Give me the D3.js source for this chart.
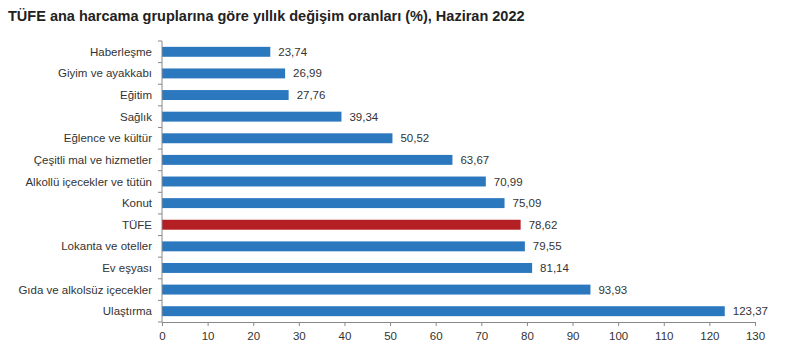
<!DOCTYPE html>
<html>
<head>
<meta charset="utf-8">
<script src="https://cdn.jsdelivr.net/npm/d3@7.9.0/dist/d3.min.js"></script>
<style>
  body { margin: 0; background: #fff; }
  svg { display: block; font-family: "Liberation Sans", Arial, sans-serif; }
</style>
</head>
<body>
<div id="chart"></div>
<script>
const categories = [
  'Haberleşme', 'Giyim ve ayakkabı', 'Eğitim', 'Sağlık', 'Eğlence ve kültür',
  'Çeşitli mal ve hizmetler', 'Alkollü içecekler ve tütün', 'Konut', 'TÜFE',
  'Lokanta ve oteller', 'Ev eşyası', 'Gıda ve alkolsüz içecekler', 'Ulaştırma'
];
const values = [23.74, 26.99, 27.76, 39.34, 50.52, 63.67, 70.99, 75.09, 78.62, 79.55, 81.14, 93.93, 123.37];
const xTicks = [0, 10, 20, 30, 40, 50, 60, 70, 80, 90, 100, 110, 120, 130];
const highlight = 'TÜFE';

const data = categories.map((c, i) => ({ name: c, value: values[i] }));

const width = 792;
const height = 352;
const margin = { top: 41, right: 37, bottom: 30, left: 162 };

const svg = d3.select('#chart')
  .append('svg')
  .attr('width', width)
  .attr('height', height);

// Title
svg.append('text')
  .attr('x', 8)
  .attr('y', 21)
  .attr('font-size', 14.5)
  .attr('font-weight', 'bold')
  .attr('fill', '#222')
  .text('TÜFE ana harcama gruplarına göre yıllık değişim oranları (%), Haziran 2022');

const xScale = d3.scaleLinear()
  .domain([0, 130])
  .range([margin.left, width - margin.right]);

const yScale = d3.scaleBand()
  .domain(categories)
  .range([margin.top, height - margin.bottom])
  .paddingInner(0.54)
  .paddingOuter(0.27);

// Bars
svg.append('g')
  .selectAll('rect')
  .data(data)
  .join('rect')
  .attr('x', xScale(0))
  .attr('y', d => yScale(d.name))
  .attr('width', d => xScale(d.value) - xScale(0))
  .attr('height', yScale.bandwidth())
  .attr('fill', d => d.name === highlight ? '#b41f24' : '#2b78bf');

// Value labels
svg.append('g')
  .selectAll('text')
  .data(data)
  .join('text')
  .attr('x', d => xScale(d.value) + 8)
  .attr('y', d => yScale(d.name) + yScale.bandwidth() / 2)
  .attr('dy', '0.35em')
  .attr('font-size', 11.5)
  .attr('fill', '#333')
  .text(d => d3.format('.2f')(d.value).replace('.', ','));

// X axis
const xAxis = svg.append('g')
  .attr('transform', `translate(0, ${height - margin.bottom})`)
  .call(d3.axisBottom(xScale).tickValues(xTicks).tickSize(4).tickSizeOuter(0).tickPadding(6));
xAxis.select('.domain').attr('stroke', '#888');
xAxis.selectAll('.tick line').attr('stroke', '#888');
xAxis.selectAll('.tick text')
  .attr('font-size', 11.5)
  .attr('fill', '#333')
  .attr('font-family', '"Liberation Sans", Arial, sans-serif');

// Y axis: line with ticks at band boundaries
const step = yScale.step();
const bounds = d3.range(categories.length + 1).map(i => margin.top + i * step);
const yAxis = svg.append('g');
yAxis.append('line')
  .attr('x1', xScale(0)).attr('x2', xScale(0))
  .attr('y1', margin.top).attr('y2', height - margin.bottom)
  .attr('stroke', '#888');
yAxis.selectAll('line.tk')
  .data(bounds)
  .join('line')
  .attr('class', 'tk')
  .attr('x1', xScale(0) - 4).attr('x2', xScale(0))
  .attr('y1', d => d).attr('y2', d => d)
  .attr('stroke', '#888');

// Category labels
svg.append('g')
  .selectAll('text')
  .data(categories)
  .join('text')
  .attr('x', xScale(0) - 10)
  .attr('y', d => yScale(d) + yScale.bandwidth() / 2)
  .attr('dy', '0.35em')
  .attr('text-anchor', 'end')
  .attr('font-size', 11.5)
  .attr('fill', '#333')
  .text(d => d);
</script>
</body>
</html>
